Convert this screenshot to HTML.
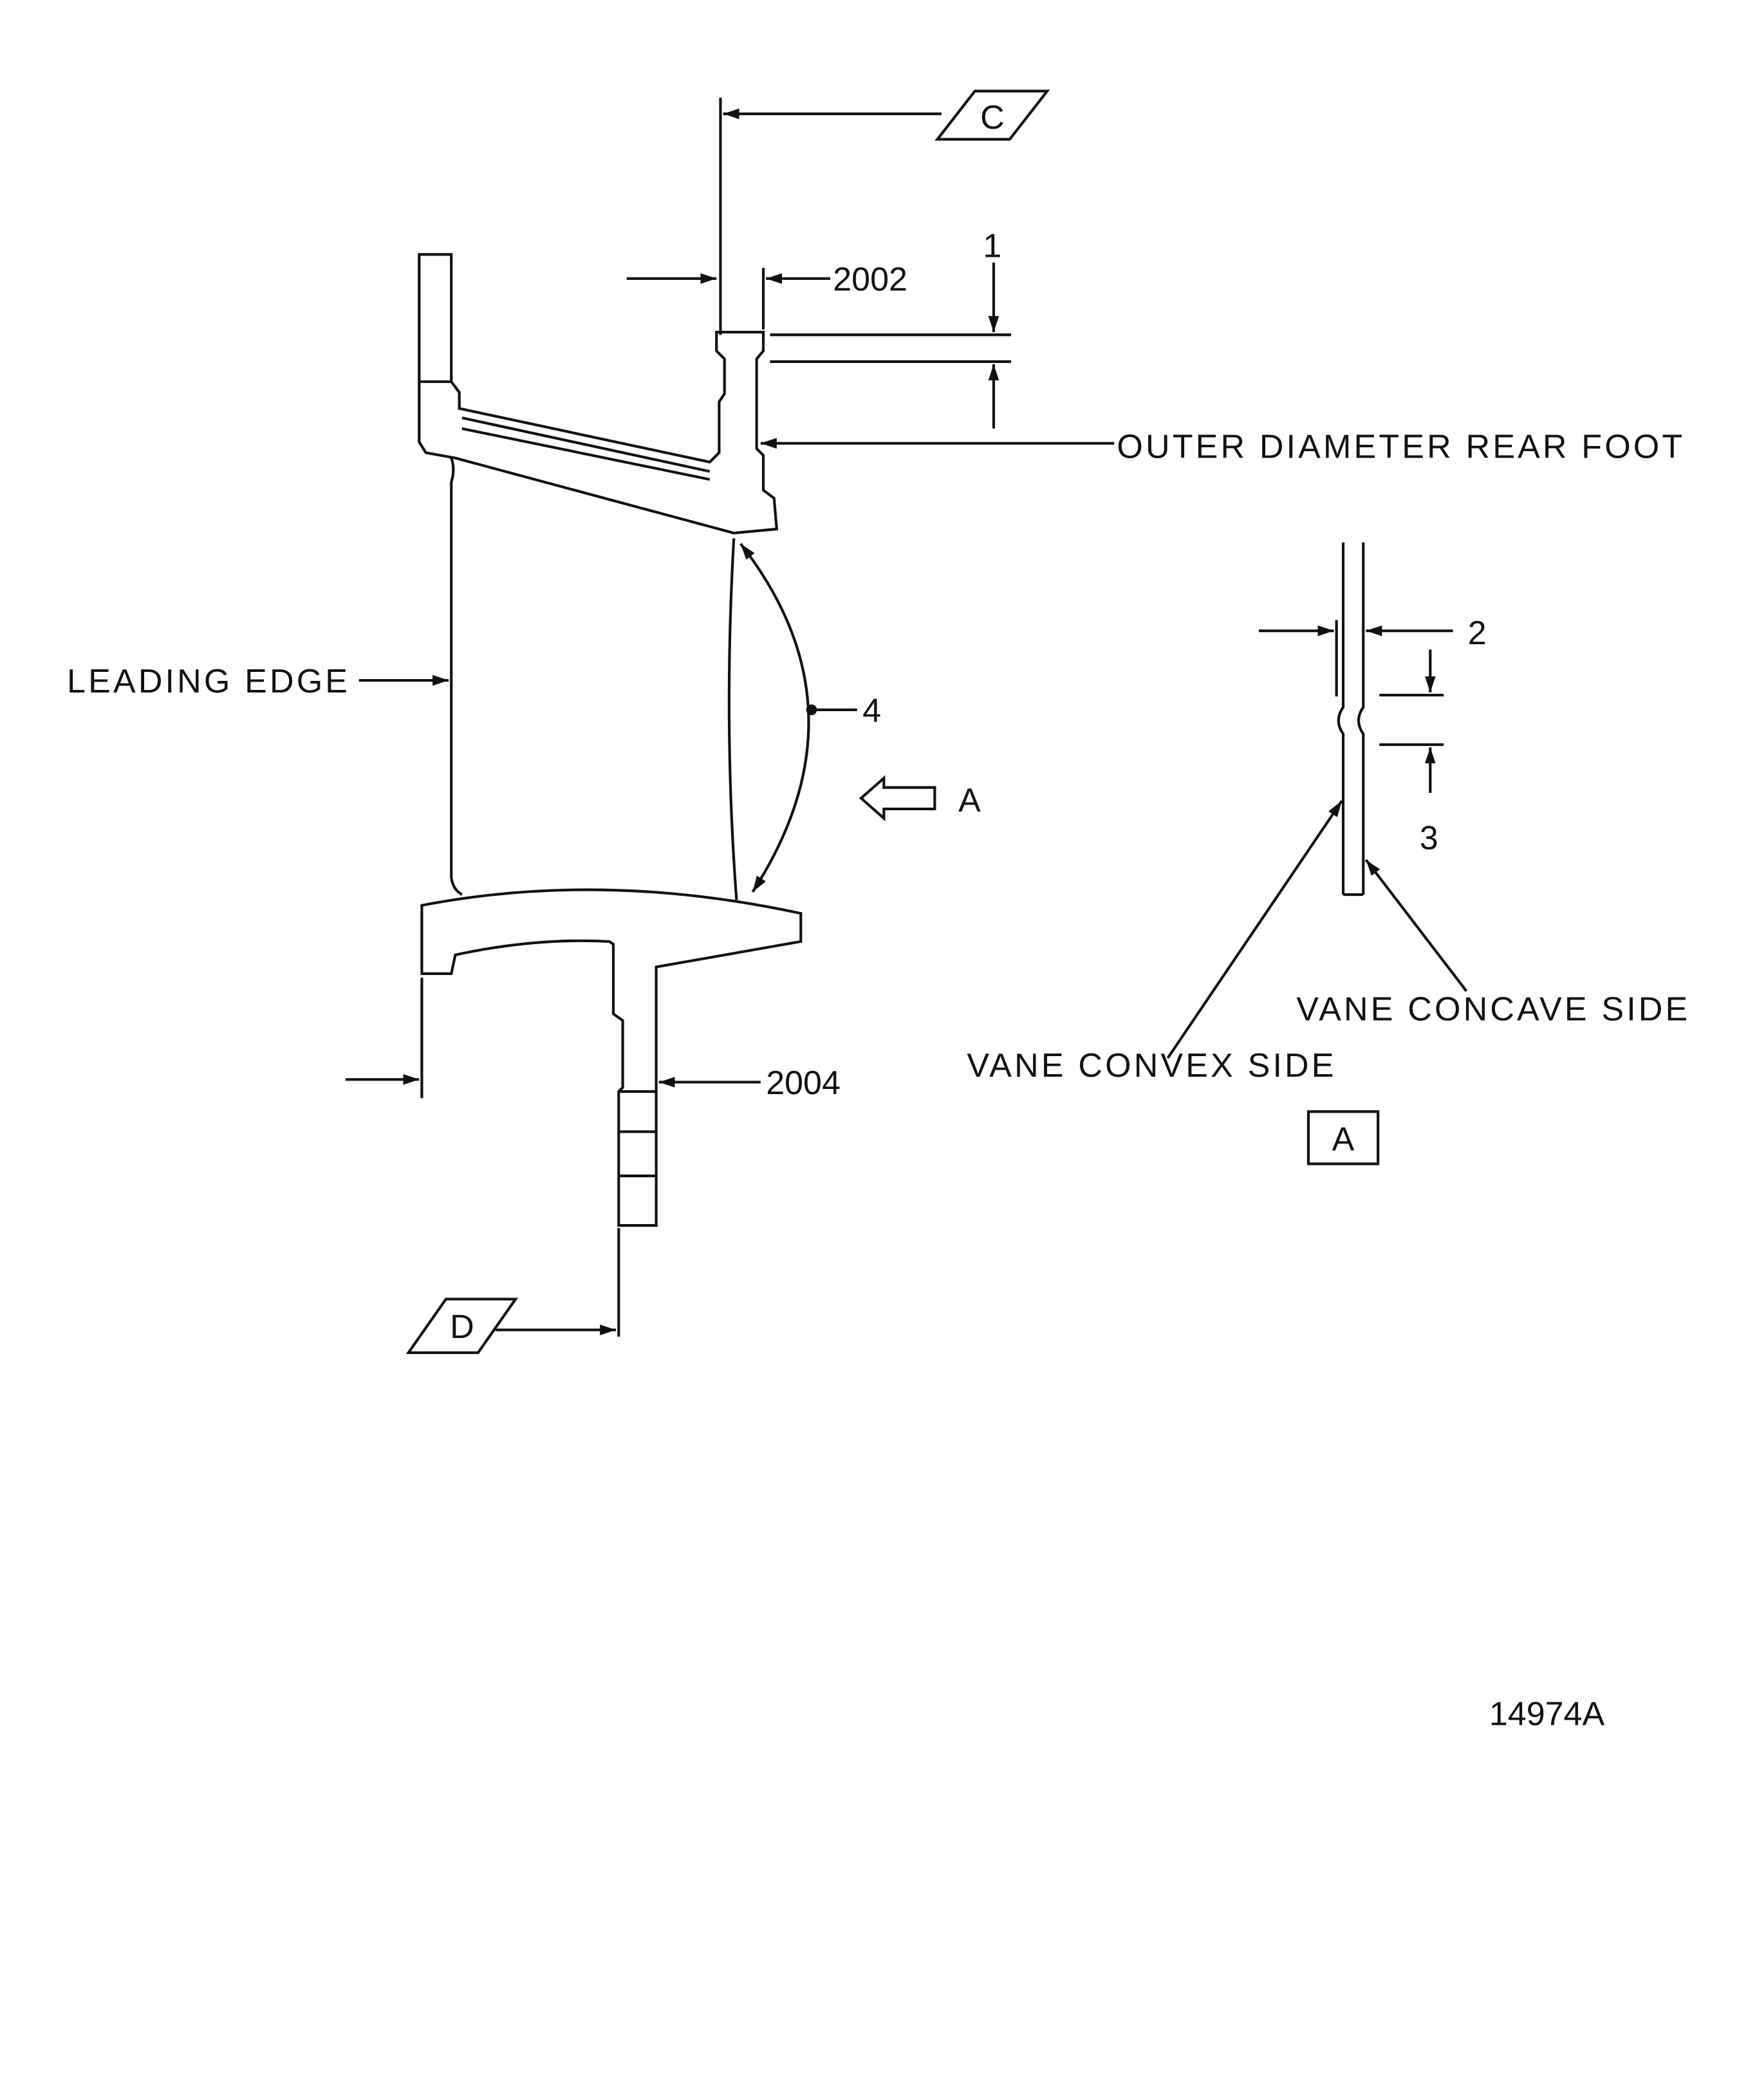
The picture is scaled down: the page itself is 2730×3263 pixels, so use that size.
<!DOCTYPE html>
<html><head><meta charset="utf-8"><style>
html,body{margin:0;padding:0;background:#fff;}
svg{display:block;}
text{font-family:"Liberation Sans",sans-serif;fill:#111;}
</style></head><body>
<svg width="2730" height="3263" viewBox="0 0 1312 1568" preserveAspectRatio="none" xmlns="http://www.w3.org/2000/svg">
<defs>
<marker id="ar" markerWidth="12" markerHeight="8" refX="12" refY="4" orient="auto-start-reverse" markerUnits="userSpaceOnUse">
<path d="M0,0 L12,4 L0,8 Z" fill="#111"/></marker>
</defs>
<g stroke="#111" stroke-width="2" fill="none">
<line x1="538" y1="73" x2="538" y2="250"/>
<line x1="703" y1="85" x2="540" y2="85" marker-end="url(#ar)"/>
<path d="M700,104 L728,68 L782,68 L754,104 Z"/>
<line x1="468" y1="208" x2="535" y2="208" marker-end="url(#ar)"/>
<line x1="620" y1="208" x2="572" y2="208" marker-end="url(#ar)"/>
<line x1="570" y1="200" x2="570" y2="246"/>
<line x1="742" y1="196" x2="742" y2="248" marker-end="url(#ar)"/>
<line x1="575" y1="250" x2="755" y2="250"/>
<line x1="575" y1="270" x2="755" y2="270"/>
<line x1="742" y1="320" x2="742" y2="272" marker-end="url(#ar)"/>
<line x1="832" y1="331" x2="568" y2="331" marker-end="url(#ar)"/>
<path d="M313,190 L337,190 L337,285 L343,293 L343,305 L530,345 L537,338 L537,300 L541,294 L541,268 L535,262 L535,248 L570,248 L570,262 L565,268 L565,335 L570,340 L570,366 L578,372 L580,395 L548,398 L340,342 L318,338 L313,330 Z"/>
<line x1="337" y1="285" x2="313" y2="285"/>
<line x1="345" y1="312" x2="530" y2="352"/>
<line x1="345" y1="320" x2="530" y2="358"/>
<path d="M337,342 Q340,350 337,360 L337,655 Q338,664 345,668"/>
<path d="M548,402 Q540,540 550,672"/>
<path d="M553,406 Q650,530 562,666" marker-start="url(#ar)" marker-end="url(#ar)"/>
<line x1="606" y1="530" x2="640" y2="530"/>
<path d="M643,596 L660,581 L660,588 L698,588 L698,604 L660,604 L660,611 Z"/>
<path d="M315,676 Q450,650 598,682 L598,703 L490,722 L490,915 L462,915 L462,815 L465,812 L465,762 L458,757 L458,705 L455,703 Q400,700 340,713 L337,727 L315,727 Z"/>
<line x1="462" y1="815" x2="490" y2="815"/>
<line x1="462" y1="845" x2="490" y2="845"/>
<line x1="462" y1="878" x2="490" y2="878"/>
<line x1="315" y1="730" x2="315" y2="820"/>
<line x1="258" y1="806" x2="313" y2="806" marker-end="url(#ar)"/>
<line x1="568" y1="808" x2="492" y2="808" marker-end="url(#ar)"/>
<line x1="268" y1="508" x2="335" y2="508" marker-end="url(#ar)"/>
<line x1="462" y1="917" x2="462" y2="998"/>
<line x1="370" y1="993" x2="460" y2="993" marker-end="url(#ar)"/>
<path d="M305,1010 L333,970 L385,970 L357,1010 Z"/>
<path d="M1003,405 L1003,528 Q996,538 1003,548 L1003,668"/>
<path d="M1018,405 L1018,528 Q1011,538 1018,548 L1018,668"/>
<line x1="1003" y1="668" x2="1018" y2="668"/>
<line x1="998" y1="463" x2="998" y2="520"/>
<line x1="940" y1="471" x2="996" y2="471" marker-end="url(#ar)"/>
<line x1="1085" y1="471" x2="1020" y2="471" marker-end="url(#ar)"/>
<line x1="1030" y1="519" x2="1078" y2="519"/>
<line x1="1030" y1="556" x2="1078" y2="556"/>
<line x1="1068" y1="485" x2="1068" y2="517" marker-end="url(#ar)"/>
<line x1="1068" y1="592" x2="1068" y2="558" marker-end="url(#ar)"/>
<line x1="872" y1="790" x2="1002" y2="598" marker-end="url(#ar)"/>
<line x1="1095" y1="740" x2="1020" y2="642" marker-end="url(#ar)"/>
<rect x="977" y="830" width="52" height="39"/>
</g>
<circle cx="606" cy="530" r="4" fill="#111"/>
<g font-size="25">
<text x="741" y="96" text-anchor="middle">C</text>
<text x="622" y="217">2002</text>
<text x="741" y="192" text-anchor="middle">1</text>
<text x="834" y="342" letter-spacing="2">OUTER DIAMETER REAR FOOT</text>
<text x="50" y="517" letter-spacing="2">LEADING EDGE</text>
<text x="651" y="539" text-anchor="middle">4</text>
<text x="724" y="606" text-anchor="middle">A</text>
<text x="572" y="817">2004</text>
<text x="345" y="999" text-anchor="middle">D</text>
<text x="1103" y="481" text-anchor="middle">2</text>
<text x="1067" y="634" text-anchor="middle">3</text>
<text x="968" y="762" letter-spacing="2">VANE CONCAVE SIDE</text>
<text x="722" y="804" letter-spacing="2">VANE CONVEX SIDE</text>
<text x="1003" y="859" text-anchor="middle">A</text>
<text x="1112" y="1288">14974A</text>
</g>
</svg>
</body></html>
